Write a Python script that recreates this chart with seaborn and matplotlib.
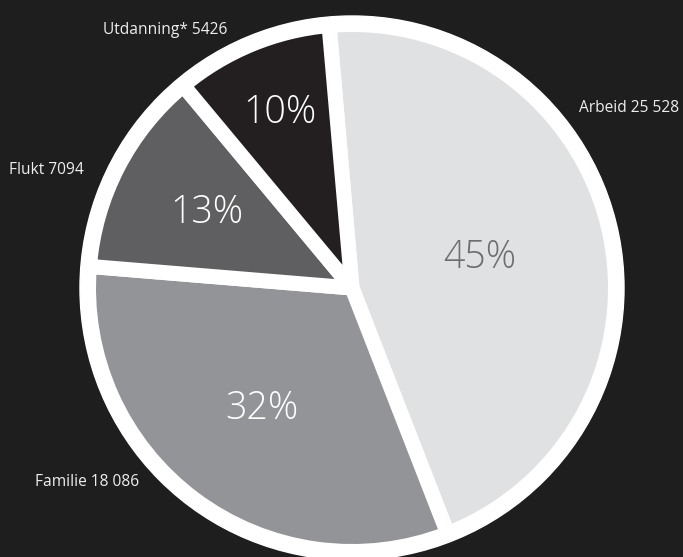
import numpy as np
import matplotlib
matplotlib.use("Agg")
import matplotlib.pyplot as plt
import seaborn as sns

categories = ["Arbeid", "Familie", "Flukt", "Utdanning*"]
counts = [25528, 18086, 7094, 5426]
colors = ["#e0e1e3", "#939498", "#5f5f61", "#231f20"]
pct_colors = ["#6d6e71", "#ffffff", "#ffffff", "#ffffff"]

sns.set_theme(style="dark")
plt.rcParams["font.family"] = ["Open Sans", "DejaVu Sans"]

BG = "#1e1e1e"
W, H = 683, 557
fig = plt.figure(figsize=(W / 100, H / 100), dpi=100, facecolor=BG)
ax = fig.add_axes([0, 0, 1, 1])
ax.set_facecolor(BG)

cx, cy = 352, H - 288
r_outer = 272
r_wedge = 263.5

ax.add_patch(plt.Circle((cx, cy), r_outer, color="white", zorder=0))

wedges, texts, autotexts = ax.pie(
    counts,
    colors=colors,
    startangle=95,
    counterclock=False,
    center=(cx, cy),
    radius=r_wedge,
    autopct="%.0f%%",
    wedgeprops=dict(edgecolor="white", linewidth=10.8, joinstyle="round"),
    frame=True,
)

pct_dist = [0.5, 0.57, 0.62, 0.72]
for w, t, d, c in zip(wedges, autotexts, pct_dist, pct_colors):
    ang = np.deg2rad((w.theta1 + w.theta2) / 2)
    t.set_position((cx + d * r_wedge * np.cos(ang), cy + d * r_wedge * np.sin(ang)))
    t.set_color(c)
    t.set_fontsize(27)
    t.set_fontweight("light")
    t.set_ha("center")
    t.set_va("center")


def fmt(v):
    return f"{v:,}".replace(",", " ") if v >= 10000 else str(v)


label_pos = {
    "Arbeid": (579, H - 108),
    "Familie": (35, H - 482),
    "Flukt": (9, H - 170),
    "Utdanning*": (103, H - 30),
}
for name, v in zip(categories, counts):
    x, y = label_pos[name]
    ax.text(x, y, f"{name} {fmt(v)}", color="#eeeeee", fontsize=11.2,
            ha="left", va="center", zorder=5)

ax.set_xlim(0, W)
ax.set_ylim(0, H)
ax.set_aspect("equal")
ax.set_xticks([])
ax.set_yticks([])
for s in ax.spines.values():
    s.set_visible(False)

fig.savefig("out.png", dpi=100, facecolor=BG)
